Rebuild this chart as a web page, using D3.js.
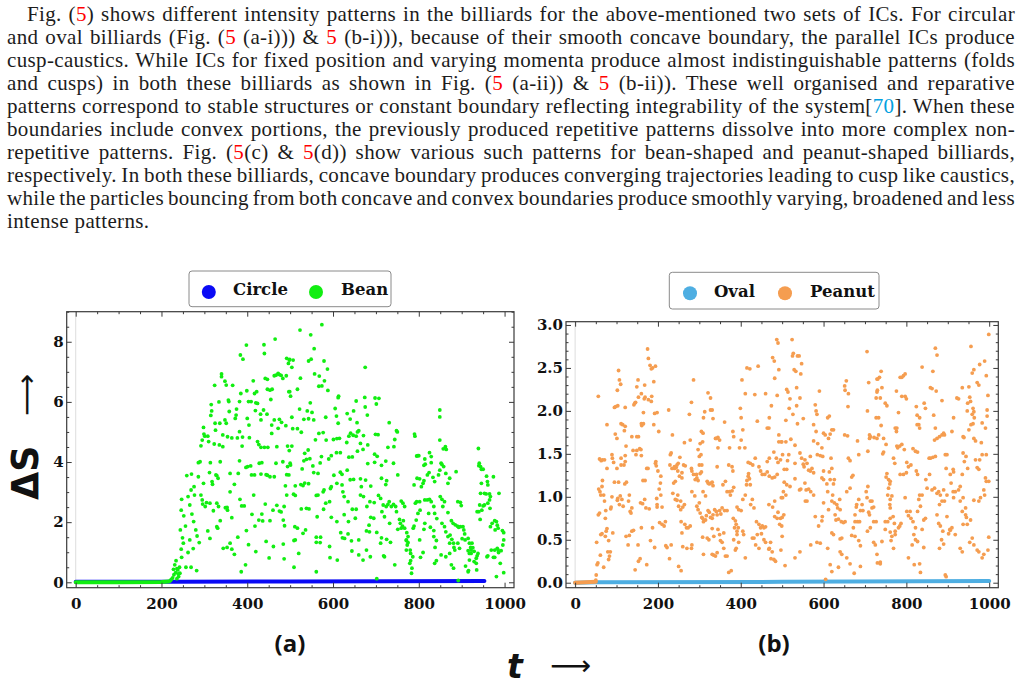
<!DOCTYPE html>
<html>
<head>
<meta charset="utf-8">
<script src="https://d3js.org/d3.v7.min.js"></script>
<style>
  body { margin: 0; background: #fff; }
</style>
</head>
<body>
<svg id="page" width="1027" height="685"></svg>
<script>
// ---- paragraph (^..^ = red ref, ~..~ = cyan ref) ----
const paraLines = [
  "Fig. (^5^) shows different intensity patterns in the billiards for the above-mentioned two sets of ICs. For circular",
  "and oval billiards (Fig. (^5^ (a-i))) & ^5^ (b-i))), because of their smooth concave boundary, the parallel ICs produce",
  "cusp-caustics. While ICs for fixed position and varying momenta produce almost indistinguishable patterns (folds",
  "and cusps) in both these billiards as shown in Fig. (^5^ (a-ii)) & ^5^ (b-ii)). These well organised and reparative",
  "patterns correspond to stable structures or constant boundary reflecting integrability of the system[~70~]. When these",
  "boundaries include convex portions, the previously produced repetitive patterns dissolve into more complex non-",
  "repetitive patterns. Fig. (^5^(c) & ^5^(d)) show various such patterns for bean-shaped and peanut-shaped billiards,",
  "respectively. In both these billiards, concave boundary produces converging trajectories leading to cusp like caustics,",
  "while the particles bouncing from both concave and convex boundaries produce smoothly varying, broadened and less",
  "intense patterns."
];

// ---- ticks ----
const xTicks = [0, 200, 400, 600, 800, 1000];
const yTicksA = [0, 2, 4, 6, 8];
const yTicksB = [0, 0.5, 1.0, 1.5, 2.0, 2.5, 3.0];

// ---- panel (a) series ----
const seriesA = ["Circle", "Bean"];
const circleLine = [[0, 0.02], [230, 0.02], [500, 0.03], [953, 0.04]];
const beanFlat = [[0, 0.0], [100, 0.0], [200, 0.01], [216, 0.03]];
const beanPts = [[218,.03],[221,.06],[226,.15],[229,.25],[233,.32],[236,.12],[239,.28],[243,.3],[236,.45],
[234,.72],[231,.58],[228,.43],[238,.41],[242,.50],[240,.19],[223,.10],[247,.83],[246,1.10],[251,1.30],[249,1.48],[244,1.74],[256,1.87],[252,2.21],[246,2.40],[247,2.76],[259,3.55],[262,2.85],[266,2.57],[271,2.27],[275,2.02],[266,1.41],[262,.99],[257,.50],[269,.50],[282,.39],[274,1.12],[283,1.54],[288,1.32],[280,1.74],[276,3.18],[269,3.07],[270,3.60],[277,2.90],[286,3.51],[286,3.98],[290,4.01],[292,2.90],[296,2.60],[295,2.74],[302,2.52],[298,3.29],[301,4.86],[295,4.73],[292,4.54],[299,4.93],[298,5.15],[308,4.86],[310,4.68],[314,3.98],[312,3.65],[319,3.26],[318,3.35],[321,2.38],[305,2.65],[313,2.63],[308,1.71],[313,1.46],[315,5.55],[317,5.70],[316,5.91],[324,6.55],[340,6.93],[340,6.84],[348,6.69],[351,6.56],[366,6.55],[334,6.00],[325,5.29],[326,5.06],[323,4.60],[329,3.55],[327,3.57],[332,3.46],[329,2.63],[333,2.52],[337,2.05],[329,1.85],[331,1.80],[336,5.29],[343,4.90],[335,4.57],[337,4.01],[343,4.51],[348,5.40],[351,5.29],[357,6.01],[356,6.06],[358,5.68],[349,2.48],[354,2.40],[353,2.49],[364,2.15],[360,3.62],[354,4.84],[360,3.01],[370,3.26],[375,5.76],[372,5.45],[374,5.56],[377,4.80],[364,4.80],[382,6.01],[385,6.28],[384,7.56],[390,7.42],[382,5.01],[389,4.83],[388,4.53],[382,4.04],[379,3.62],[387,2.54],[393,2.54],[383,2.76],[364,1.10],[360,1.30],[344,1.13],[353,1.16],[370,.93],[378,1.50],[386,.35],[396,.58],[398,1.72],[403,1.25],[398,7.89],[399,6.37],[403,6.01],[400,5.45],[404,5.23],[405,4.81],[409,6.01],[414,6.70],[417,6.28],[420,1.02],[418,1.87],[411,2.26],[408,3.87],[401,3.85],[397,3.82],[410,3.57],[417,3.57],[415,2.90],[422,6.34],[420,5.97],[424,5.95],[419,5.71],[431,5.59],[432,5.40],[438,5.73],[439,7.90],[440,7.61],[442,6.78],[447,6.75],[447,6.42],[453,6.39],[458,6.42],[455,6.08],[446,5.59],[457,4.95],[448,4.49],[440,4.49],[432,4.49],[427,4.58],[424,4.68],[428,3.96],[434,3.98],[432,3.60],[444,3.58],[447,3.56],[453,3.51],[463,3.51],[467,3.96],[442,2.60],[434,2.27],[427,2.07],[436,2.04],[453,2.05],[460,2.40],[469,2.56],[475,2.37],[479,2.34],[444,1.36],[461,1.19],[451,.81],[484,1.27],[486,.78],[465,8.09],[463,6.87],[467,6.89],[472,6.95],[479,6.88],[475,6.91],[483,6.78],[491,6.87],[496,7.28],[498,7.39],[492,7.45],[497,6.34],[475,5.42],[480,5.32],[490,5.21],[463,5.40],[472,5.12],[457,5.23],[469,4.51],[494,4.53],[498,4.38],[483,4.01],[494,3.85],[489,3.21],[492,3.58],[500,3.96],[486,2.52],[487,1.88],[484,2.07],[492,2.90],
[574,8.57],[523,8.39],[548,8.23],[556,7.77],[499,7.41],[507,7.39],[543,7.36],[549,7.42],[579,7.36],[504,7.15],[587,7.09],[557,6.93],[568,6.86],[580,6.70],[524,6.79],[567,6.52],[574,6.53],[588,6.38],[517,6.42],[499,6.34],[501,6.19],[675,7.15],[613,6.19],[612,6.14],[547,5.97],[674,6.15],[698,6.13],[707,6.12],[701,5.93],[654,6.03],[675,5.83],[605,5.78],[522,5.76],[540,5.70],[551,5.65],[633,5.61],[648,5.70],[680,5.56],[608,5.53],[640,5.43],[504,5.49],[532,5.42],[543,5.44],[555,5.40],[583,5.49],[731,5.31],[612,5.29],[656,5.31],[506,5.11],[517,5.11],[526,4.99],[567,4.95],[577,4.98],[559,4.74],[584,4.73],[601,4.75],[609,4.78],[615,4.79],[641,4.96],[647,4.89],[654,4.86],[637,4.86],[660,5.04],[657,5.00],[671,4.88],[699,4.92],[705,4.91],[748,5.04],[750,5.00],[744,4.75],[790,4.93],[791,4.86],[849,5.73],[849,5.50],[849,4.73],[742,4.51],[728,4.49],[664,4.62],[681,4.57],[670,4.42],[657,4.36],[632,4.65],[637,4.16],[645,4.17],[617,4.31],[608,4.31],[596,4.21],[590,4.10],[573,4.18],[534,4.29],[504,4.53],[542,4.40],[532,4.04],[538,4.09],[546,4.11],[553,3.87],[570,3.97],[501,3.90],[497,3.57],[528,3.77],[555,3.65],[565,3.62],[512,3.21],[534,3.30],[543,3.28],[602,3.56],[617,3.66],[621,3.59],[633,3.73],[640,3.41],[648,3.42],[664,3.44],[676,3.40],[697,4.26],[703,4.19],[697,3.99],[681,3.95],[713,3.89],[723,4.03],[741,3.96],[713,3.46],[725,3.38],[723,3.25],[751,3.57],[508,2.93],[512,2.89],[525,3.25],[530,3.22],[561,2.89],[565,2.90],[577,3.01],[579,3.07],[596,3.18],[594,3.12],[609,3.29],[621,3.24],[623,3.01],[626,2.85],[635,2.68],[666,3.18],[664,2.90],[671,2.85],[688,3.20],[686,2.68],[696,2.65],[679,2.52],[706,2.89],[711,2.79],[717,2.57],[724,2.52],[728,2.59],[731,2.68],[736,2.52],[741,2.59],[746,2.52],[748,2.35],[759,2.70],[763,2.63],[767,2.52],[755,2.09],[757,1.96],[764,2.05],[762,1.87],[720,2.18],[714,2.35],[732,1.96],[695,2.13],[688,2.16],[684,1.90],[654,2.43],[645,2.43],[652,2.13],[636,2.02],[626,2.25],[609,2.02],[596,2.16],[583,2.63],[592,2.68],[578,2.43],[538,2.46],[544,2.44],[526,2.44],[563,2.18],[511,1.85],[517,1.80],[530,1.63],[536,1.74],[561,1.50],[571,1.50],[570,1.32],[561,1.33],[618,1.65],[622,1.48],[627,1.46],[635,1.61],[643,1.38],[660,1.41],[678,1.71],[685,1.68],[702,1.66],[713,1.48],[725,1.43],[734,1.33],[751,1.76],[759,1.80],[767,1.80],[772,1.65],[775,1.52],[771,1.39],[775,1.32],[789,1.87],[787,1.80],[794,2.07],[798,2.29],[792,2.63],[795,2.68],[802,2.68],[789,3.24],[796,3.46],[802,3.44],[798,4.21],[795,4.20],[800,4.21],[814,4.10],[815,3.93],[812,3.89],[825,4.31],[829,4.18],[829,3.98],[824,3.65],[820,3.57],[812,3.38],[810,3.29],[806,3.18],[833,3.49],[837,3.35],[852,3.96],[858,3.85],[854,3.92],[857,4.44],[862,4.51],[864,4.42],[849,3.73],[846,3.57],[863,3.62],[868,3.29],[872,3.46],[814,2.74],[820,2.74],[825,2.76],[829,2.68],[803,2.40],[835,2.52],[850,2.85],[854,2.76],[856,2.52],[860,2.68],[887,3.68],[891,2.68],[897,2.66],[899,2.55],[868,2.32],[876,2.05],[880,1.96],[885,1.91],[890,1.87],[893,1.83],[897,1.85],[823,2.29],[837,2.29],[842,2.12],[814,1.96],[812,1.76],[827,1.83],[835,1.72],[835,1.52],[841,1.39],[838,1.16],[854,1.96],[860,1.85],[863,1.68],[868,1.52],[873,1.57],[877,1.43],[881,1.30],[872,1.30],[903,1.85],[905,1.74],[907,1.61],[901,1.45],[908,1.41],[915,1.46],[918,1.30],[921,1.16],[922,1.07],[926,1.15],[915,1.05],[918,.96],[929,1.03],[924,1.30],[891,1.30],[895,1.13],[884,1.07],[882,1.16],[852,.91],[863,.85],[872,.96],[876,.58],[881,.47],[841,.72],[837,.63],[810,.99],[804,.83],[786,.85],[781,.72],[779,.63],[784,.47],[783,.30],[771,1.07],[780,1.07],[781,.96],[773,1.24],[771,1.41],[802,1.41],[909,.54],[915,.35],[922,.96],[918,.74],[916,.39],[929,.69],[934,.80],[936,.88],[938,.96],[934,.63],[935,.41],[939,4.45],[941,3.96],[944,3.85],[946,3.76],[940,3.88],[950,3.76],[946,3.29],[944,2.96],[953,2.96],[958,3.53],[960,3.35],[957,2.94],[965,2.94],[967,2.85],[961,3.24],[974,3.51],[987,2.96],[942,2.57],[950,2.54],[953,2.57],[940,2.35],[947,2.40],[961,2.63],[943,2.09],[936,2.35],[966,2.46],[965,2.74],[967,1.85],[971,1.96],[977,2.05],[981,2.02],[985,1.80],[978,1.74],[983,1.90],[995,1.72],[998,1.65],[998,1.41],[996,1.24],[969,1.07],[977,1.07],[983,1.13],[985,1.07],[992,1.05],[986,.99],[990,.63],[998,.32],[981,.19],[961,.88],[959,.85],[974,.83],[977,.83],[702,.12],[892,.06],[509,1.39],[512,1.41],[520,.96],[509,.50],[561,.35],[592,1.19],[593,.82],[610,.74],[644,1.04],[660,.91],[670,.74],[678,1.07],[687,.85],[718,.88],[720,.85],[744,.58],[711,1.30]];

// ---- panel (b) series ----
const seriesB = ["Oval", "Peanut"];
const ovalLine = [[0, 0.0], [50, 0.005], [500, 0.01], [1000, 0.02]];
const peanutFlat = [[0, 0.0], [50, 0.01]];
const peanutPts = [[50,.03],[51,.09],[53,.21],[55,.23],[52,.47],[56,2.17],[56,.79],[59,.81],[62,1.02],[60,1.06],[57,1.09],[65,1.12],[59,1.44],[63,1.42],[66,1.43],[71,1.43],[66,1.19],[62,.56],[61,.32],[69,.18],[65,.57],[73,.75],[74,.84],[77,1.84],[77,1.33],[69,1.02],[71,.95],[75,.60],[77,.63],[73,.54],[81,.49],[79,.36],[83,.31],[81,.27],[85,.36],[89,1.00],[86,.86],[87,.88],[91,.58],[90,1.45],[89,1.49],[93,1.40],[97,1.73],[95,1.17],[95,2.04],[98,2.05],[103,2.06],[102,2.24],[105,2.47],[107,2.36],[110,2.31],[101,1.68],[101,1.33],[105,1.17],[102,.96],[103,.98],[111,1.85],[115,1.84],[121,1.82],[111,1.45],[109,1.01],[107,.91],[113,.97],[116,.89],[111,1.37],[121,2.04],[119,1.77],[123,1.59],[121,1.48],[118,1.37],[120,1.15],[121,1.41],[124,1.17],[131,1.02],[129,.95],[123,.54],[128,.44],[131,.55],[137,.60],[141,.61],[133,.83],[135,.81],[137,.87],[140,1.54],[144,2.09],[142,2.07],[146,2.10],[149,2.28],[152,2.36],[153,2.16],[147,1.49],[149,1.54],[137,1.70],[149,1.70],[153,1.70],[156,1.56],[159,1.55],[160,1.48],[145,.15],[153,.25],[157,.28],[152,.44],[160,.64],[158,.93],[163,.92],[160,1.85],[161,1.83],[165,1.85],[160,2.20],[165,1.98],[168,2.30],[169,2.16],[167,2.14],[175,2.72],[177,2.61],[181,2.53],[184,2.49],[187,2.50],[190,2.34],[194,2.52],[173,1.33],[176,1.33],[164,1.19],[169,1.19],[177,2.13],[184,2.11],[185,2.17],[190,1.84],[192,1.97],[198,1.98],[202,1.76],[182,.49],[192,.41],[173,.21],[168,.97],[171,.87],[179,.86],[195,1.41],[194,1.39],[196,1.36],[200,1.30],[197,.98],[206,1.16],[207,1.24],[198,.88],[203,1.09],[210,.88],[207,1.02],[187,.64],[198,.91],[204,.70],[210,.68],[215,.66],[218,.71],[219,.43],[222,.41],[232,.44],[226,2.01],[235,1.72],[228,.28],[250,.19],[256,.14],[229,1.37],[234,1.33],[240,1.33],[240,1.35],[244,1.34],[246,1.37],[248,1.30],[249,1.39],[253,1.46],[258,1.28],[262,1.37],[266,1.36],[232,1.51],[230,1.49],[238,1.16],[242,1.18],[236,1.04],[242,.97],[246,.96],[248,1.02],[252,1.24],[258,1.22],[255,.95],[250,.89],[255,.85],[260,.88],[264,.91],[256,.71],[265,.68],[269,.64],[258,.58],[273,.64],[278,.66],[260,.42],[270,.40],[281,.40],[282,.44],[264,1.63],[278,1.66],[281,1.33],[282,1.30],[286,1.26],[290,1.20],[293,1.26],[294,1.22],[297,1.19],[286,2.36],[281,2.10],[276,1.96],[282,1.06],[289,1.01],[294,.89],[300,.93],[297,.85],[302,.81],[306,.76],[308,.75],[310,.71],[315,.73],[317,.78],[297,1.55],[300,1.47],[304,1.49],[300,1.37],[306,1.37],[305,1.29],[302,1.27],[305,1.76],[309,1.74],[308,1.64],[302,1.62],[309,1.06],[315,1.01],[319,1.18],[321,1.16],[324,1.15],[328,1.16],[331,1.17],[333,1.13],[313,1.99],[310,1.92],[321,2.21],[327,2.15],[331,2.01],[333,1.91],[327,2.01],[308,.53],[310,.33],[319,.52],[323,.50],[331,.33],[335,.32],[339,.31],[343,.35],[321,.84],[324,.82],[327,.76],[331,.75],[333,.79],[337,.85],[341,.83],[343,.79],[349,.84],[352,.80],[355,.87],[361,.84],[367,.84],[339,1.68],[341,1.68],[345,1.69],[349,1.66],[345,1.57],[343,1.35],[331,.63],[335,.54],[345,.62],[349,.56],[355,.47],[351,.49],[359,.58],[359,.40],[363,.31],[367,.31],[371,.12],[377,.14],[357,1.14],[363,1.18],[367,1.06],[373,1.06],[375,1.02],[379,1.07],[383,1.11],[361,1.87],[373,1.57],[381,1.76],[383,1.70],[371,1.37],[379,1.35],[381,1.30],[382,.75],[387,.72],[389,.68],[391,.60],[394,.64],[385,.64],[391,.56],[383,.50],[395,.47],[389,.40],[387,.38],[391,.88],[395,.85],[401,.84],[397,1.57],[401,1.66],[405,1.78],[410,1.57],[399,2.03],[403,2.36],[401,1.92],[405,.97],[411,1.02],[418,1.24],[414,1.14],[415,1.19],[419,1.27],[421,1.21],[423,1.14],[415,2.50],[422,2.49],[411,2.20],[405,.60],[411,.29],[407,.56],[418,1.40],[423,1.39],[429,1.37],[434,2.19],[442,2.52],[440,1.88],[435,1.45],[444,1.35],[448,1.30],[452,1.26],[424,.91],[428,.97],[432,.87],[438,.71],[444,.68],[448,.64],[452,.66],[456,.64],[460,.65],[428,.52],[432,.52],[436,.44],[440,.56],[444,.40],[450,.57],[456,.50],[460,.47],[469,.40],[473,.28],[468,.39],[458,1.26],[464,1.29],[469,1.24],[476,1.22],[482,1.23],[488,1.26],[464,1.41],[469,1.45],[480,1.52],[486,1.45],[490,1.40],[496,1.43],[460,2.20],[464,1.80],[468,1.80],[469,1.92],[474,2.06],[477,2.62],[481,2.58],[482,2.38],[487,2.83],[490,2.79],[492,2.48],[488,2.18],[492,1.72],[492,1.64],[498,1.64],[498,.99],[468,.91],[477,.88],[482,.95],[490,.82],[482,.77],[488,.75],[496,.75],[500,.76],[494,.68],[472,.47],[476,.36],[480,.27],[484,.25],[500,.54],[504,.79],
[524,2.83],[527,2.67],[525,2.64],[537,2.64],[541,2.64],[547,2.55],[529,2.48],[533,2.46],[545,2.43],[511,2.25],[514,2.22],[519,2.14],[517,2.03],[535,2.27],[543,2.15],[509,1.89],[526,1.96],[535,2.06],[537,1.85],[551,1.91],[499,1.64],[509,1.64],[521,1.67],[531,1.60],[501,1.49],[516,1.49],[513,1.42],[511,1.32],[505,1.32],[531,1.39],[543,1.51],[547,1.45],[555,1.43],[551,1.38],[553,1.35],[560,1.39],[568,1.47],[564,1.31],[568,1.30],[576,1.28],[572,1.33],[505,1.17],[511,1.14],[503,1.06],[501,.99],[509,1.02],[519,1.12],[531,1.21],[542,1.08],[545,1.09],[555,1.16],[558,1.08],[564,1.09],[569,1.06],[560,.95],[556,.95],[576,1.02],[580,2.07],[582,2.00],[584,1.96],[576,1.84],[590,2.23],[582,1.76],[576,1.65],[586,1.62],[600,1.74],[604,1.72],[616,1.73],[612,1.68],[620,1.78],[610,1.92],[614,1.94],[624,1.78],[596,1.57],[598,1.47],[585,1.49],[592,1.48],[600,1.30],[618,1.45],[620,1.33],[614,1.29],[596,1.22],[600,1.20],[608,1.15],[616,1.20],[624,1.15],[626,1.20],[622,1.02],[610,1.06],[600,.93],[612,.85],[620,.95],[626,.93],[632,.91],[639,.97],[634,.87],[628,.79],[640,.85],[630,.73],[636,.74],[643,.71],[648,.70],[652,.71],[580,.77],[597,.77],[596,.72],[588,.66],[620,.58],[624,.56],[640,.51],[644,.52],[584,.47],[592,.46],[569,.44],[543,.36],[531,.29],[507,.20],[497,.38],[499,.66],[610,.40],[616,.21],[620,.13],[636,.18],[640,.36],[644,.33],[656,.29],[664,.22],[674,.11],[689,.19],[689,.43],[685,.49],[651,2.29],[655,2.35],[652,2.24],[660,2.20],[659,2.05],[651,1.72],[658,1.71],[660,1.45],[664,1.42],[668,1.23],[671,1.25],[664,1.10],[656,1.06],[682,1.65],[685,1.49],[685,.97],[680,.91],[679,.88],[693,.91],[689,.84],[695,.84],[676,.79],[676,.71],[682,.71],[687,.71],[672,.64],[668,.55],[676,.54],[705,2.69],[706,2.00],[709,2.33],[707,1.53],[707,1.12],[703,1.06],[705,.99],[713,.95],[717,.95],[709,.82],[711,.79],[717,.87],[721,.88],[721,.71],[727,.71],[706,.60],[713,.64],[721,.47],[725,.44],[729,.33],[730,.23],[737,.24],[737,.22],[741,.48],[729,2.37],[731,2.37],[735,2.39],[739,2.46],[727,2.15],[730,2.24],[729,2.22],[737,2.15],[741,2.27],[733,1.92],[727,1.92],[739,1.83],[733,1.72],[711,1.72],[711,1.68],[713,1.70],[722,1.69],[729,1.68],[745,1.68],[749,2.09],[753,2.06],[751,1.61],[743,1.50],[745,1.52],[753,1.27],[751,1.23],[757,1.20],[761,1.18],[760,1.15],[757,1.10],[755,1.02],[761,.97],[765,1.01],[760,.91],[761,.87],[749,.71],[755,.71],[761,.75],[768,.77],[771,.69],[773,.60],[765,.54],[763,.49],[769,.40],[773,.56],[781,.64],[784,.66],[787,.69],[761,.59],[749,.62],[776,2.23],[773,1.80],[777,1.80],[776,1.76],[781,1.98],[785,2.39],[789,2.39],[793,2.41],[797,2.43],[789,2.17],[797,2.17],[800,2.14],[777,1.59],[779,1.57],[784,1.59],[769,1.45],[772,1.39],[789,1.61],[795,1.55],[785,1.26],[793,1.26],[800,1.28],[801,1.40],[805,1.35],[811,1.37],[797,.99],[801,.83],[805,.78],[811,.75],[809,.83],[816,.71],[822,.64],[822,.50],[827,.48],[818,.56],[814,.44],[805,.29],[819,.21],[832,.22],[834,.12],[824,2.05],[826,1.95],[832,1.92],[830,1.84],[838,2.51],[843,2.09],[846,2.03],[826,1.84],[832,1.80],[816,1.56],[822,1.53],[827,1.52],[824,1.30],[827,1.26],[832,1.02],[830,.97],[838,1.02],[834,.89],[827,.83],[842,.73],[838,.62],[842,.41],[846,.75],[850,1.10],[847,1.20],[856,1.26],[855,1.45],[858,1.45],[864,1.46],[870,1.47],[858,2.27],[862,2.26],[864,2.46],[870,2.73],[874,2.65],[872,2.23],[866,1.95],[870,1.80],[868,1.66],[874,1.68],[880,1.70],[886,1.72],[862,1.08],[868,1.10],[874,1.04],[878,1.06],[882,1.02],[890,1.08],[892,.95],[886,.95],[880,.91],[874,.79],[878,.69],[882,.66],[888,.60],[885,.50],[880,.40],[890,.45],[894,.09],[896,.07],[886,2.12],[890,1.74],[892,1.72],[894,1.49],[898,1.49],[896,1.33],[898,1.02],[898,.77],[905,.62],[902,.57],[906,.61],[910,.64],[914,.99],[913,1.06],[908,1.16],[910,1.76],[914,1.92],[922,2.15],[926,2.14],[918,1.06],[926,1.08],[930,1.12],[937,.99],[935,.83],[943,.87],[945,.76],[947,.68],[930,.95],[935,1.26],[937,1.51],[940,1.41],[948,1.33],[937,1.70],[935,2.27],[939,1.69],[944,1.47],[918,.56],[930,.40],[935,.36],[953,.47],[959,.52],[963,.44],[971,.38],[975,.36],[983,.29],[987,.33],[997,.38],[999,.53],[937,.68],[943,.79],[955,.73],[951,2.28],[953,2.16],[955,2.11],[961,2.03],[959,1.96],[963,1.99],[964,1.92],[961,1.85],[956,1.84],[951,1.78],[947,2.00],[948,2.09],[956,2.75],[959,2.44],[963,2.48],[971,2.33],[975,2.30],[977,2.54],[989,2.58],[993,2.41],[997,2.18],[995,2.01],[995,1.94],[991,1.80],[983,1.86],[963,1.68],[967,1.65],[981,1.63],[983,1.49],[977,1.43],[975,1.32],[971,1.34],[967,1.43],[993,1.49],[999,1.18],[993,1.18],[991,1.22],[987,1.08],[989,1.02],[979,.99],[975,.95],[963,.96],[913,1.32],[914,1.29],[906,1.26],[605,.04],[999,2.89]];

const svg = d3.select("#page");
const frameColor = "#3a3a3a";
const tickFont = "DejaVu Serif";

// ---------- paragraph ----------
const textX = 7, textRight = 1015, indent = 20;
paraLines.forEach((ln, i) => {
  const x0 = i === 0 ? textX + indent : textX;
  const t = svg.append("text")
    .attr("x", x0)
    .attr("y", 21 + 23 * i)
    .attr("font-family", "Liberation Serif")
    .attr("font-size", 21)
    .attr("fill", "#1c1c1c")
    .style("letter-spacing", "0.35px")
    .style("white-space", "pre");
  ln.split(/(\^[^^]*\^|~[^~]*~)/).forEach(seg => {
    if (!seg) return;
    let col = null, s = seg;
    if (seg[0] === "^") { col = "#ff0000"; s = seg.slice(1, -1); }
    if (seg[0] === "~") { col = "#00a0e0"; s = seg.slice(1, -1); }
    const ts = t.append("tspan").text(s);
    if (col) ts.attr("fill", col);
  });
  if (i < paraLines.length - 1) {
    const w = t.node().getComputedTextLength();
    const n = (ln.match(/ /g) || []).length;
    t.style("word-spacing", ((textRight - x0 - w) / n) + "px");
  }
});

// ---------- panels ----------
function drawPanel(o) {
  const g = svg.append("g");
  const x = d3.scaleLinear().domain(o.xDom).range([o.left, o.right]);
  const y = d3.scaleLinear().domain(o.yDom).range([o.bottom, o.top]);

  g.append("line")
    .attr("x1", x(0)).attr("x2", x(0))
    .attr("y1", o.top).attr("y2", o.bottom)
    .attr("stroke", "#dddddd").attr("stroke-width", 1);

  const line = d3.line().x(d => x(d[0])).y(d => y(d[1]));
  g.append("path").datum(o.baseLine)
    .attr("d", line).attr("fill", "none")
    .attr("stroke", o.colors[0]).attr("stroke-width", 4)
    .attr("stroke-linecap", "round");
  g.append("path").datum(o.flatLine)
    .attr("d", line).attr("fill", "none")
    .attr("stroke", o.colors[1]).attr("stroke-width", 4)
    .attr("stroke-linecap", "round");
  g.append("g").selectAll("circle").data(o.pts).join("circle")
    .attr("cx", d => x(d[0])).attr("cy", d => y(d[1]))
    .attr("r", 1.9).attr("fill", o.colors[1]);

  // frame ticks
  const styleAxis = sel => {
    sel.select(".domain").remove();
    sel.selectAll("line").attr("stroke", frameColor);
    sel.selectAll("text")
      .attr("font-family", tickFont)
      .attr("font-weight", "bold")
      .attr("font-size", 15)
      .attr("fill", "#111");
  };
  const xMinor = d3.range(0, 1001, 50).filter(v => v % 200 !== 0);
  g.append("g").attr("transform", `translate(0,${o.bottom})`)
    .call(d3.axisBottom(x).tickValues(xTicks).tickSize(-5).tickPadding(11).tickFormat(d3.format("d"))).call(styleAxis);
  g.append("g").attr("transform", `translate(0,${o.bottom})`)
    .call(d3.axisBottom(x).tickValues(xMinor).tickSize(-2.5).tickFormat("")).call(styleAxis);
  g.append("g").attr("transform", `translate(0,${o.top})`)
    .call(d3.axisTop(x).tickValues(xTicks).tickSize(-5).tickFormat("")).call(styleAxis);
  g.append("g").attr("transform", `translate(0,${o.top})`)
    .call(d3.axisTop(x).tickValues(xMinor).tickSize(-2.5).tickFormat("")).call(styleAxis);
  g.append("g").attr("transform", `translate(${o.left},0)`)
    .call(d3.axisLeft(y).tickValues(o.yTicks).tickSize(-5).tickPadding(3).tickFormat(o.yFmt)).call(styleAxis);
  g.append("g").attr("transform", `translate(${o.left},0)`)
    .call(d3.axisLeft(y).tickValues(o.yMinor).tickSize(-2.5).tickFormat("")).call(styleAxis);
  g.append("g").attr("transform", `translate(${o.right},0)`)
    .call(d3.axisRight(y).tickValues(o.yTicks).tickSize(-5).tickFormat("")).call(styleAxis);
  g.append("g").attr("transform", `translate(${o.right},0)`)
    .call(d3.axisRight(y).tickValues(o.yMinor).tickSize(-2.5).tickFormat("")).call(styleAxis);

  g.append("rect")
    .attr("x", o.left).attr("y", o.top)
    .attr("width", o.right - o.left).attr("height", o.bottom - o.top)
    .attr("fill", "none").attr("stroke", frameColor).attr("stroke-width", 1.2);

  // legend
  const lg = g.append("g");
  lg.append("rect")
    .attr("x", o.legend.x).attr("y", o.legend.y)
    .attr("width", o.legend.w).attr("height", o.legend.h)
    .attr("rx", 3).attr("fill", "#fff")
    .attr("stroke", "#8a8a8a").attr("stroke-width", 1);
  o.names.forEach((nm, i) => {
    lg.append("circle")
      .attr("cx", o.legend.dots[i]).attr("cy", o.legend.cy)
      .attr("r", 7).attr("fill", o.colors[i]);
    lg.append("text")
      .attr("x", o.legend.labels[i]).attr("y", o.legend.base)
      .attr("font-family", tickFont).attr("font-weight", "bold")
      .attr("font-size", 16.5).attr("fill", "#111")
      .text(nm);
  });

  svg.append("text")
    .attr("x", o.tagX).attr("y", 652)
    .attr("text-anchor", "middle")
    .attr("font-family", "Open Sans").attr("font-weight", "bold")
    .attr("font-size", 24).attr("fill", "#111")
    .text(o.tag);
}

drawPanel({
  xDom: [-21, 1022], yDom: [-0.18, 9.0],
  left: 66.7, right: 514, top: 311.7, bottom: 587.7,
  yTicks: yTicksA, yMinor: d3.range(0.5, 9.01, 0.5).filter(v => v % 2 !== 0),
  yFmt: d3.format("d"),
  names: seriesA, colors: ["#0a0af5", "#11ee11"],
  baseLine: circleLine, flatLine: beanFlat, pts: beanPts,
  legend: {x: 189, y: 271, w: 202, h: 35.7, cy: 292, dots: [208.8, 316], labels: [233, 341], base: 295},
  tag: "(a)", tagX: 290
});

drawPanel({
  xDom: [-22, 1022], yDom: [-0.058, 3.038],
  left: 566, right: 998.3, top: 321.7, bottom: 587.7,
  yTicks: yTicksB, yMinor: d3.range(0.1, 3.01, 0.1).filter(v => Math.abs(v * 2 - Math.round(v * 2)) > 0.01),
  yFmt: d3.format(".1f"),
  names: seriesB, colors: ["#4eaee2", "#f59d50"],
  baseLine: ovalLine, flatLine: peanutFlat, pts: peanutPts,
  legend: {x: 669.3, y: 272.3, w: 209.7, h: 36.7, cy: 293.3, dots: [690, 785], labels: [714, 810], base: 296.7},
  tag: "(b)", tagX: 774
});

// ---------- axis titles ----------
const yTitle = svg.append("g").attr("transform", "translate(38.3,440) rotate(-90)");
yTitle.append("text")
  .attr("x", -60).attr("y", 0)
  .attr("font-family", "DejaVu Sans").attr("font-weight", "bold")
  .attr("font-size", 36.5).attr("fill", "#111")
  .text("ΔS");
yTitle.append("text")
  .attr("x", 24).attr("y", -2)
  .attr("font-family", "DejaVu Sans").attr("font-size", 28)
  .attr("textLength", 42).attr("lengthAdjust", "spacingAndGlyphs")
  .attr("fill", "#111")
  .text("⟶");

svg.append("text")
  .attr("x", 507).attr("y", 678)
  .attr("font-family", "DejaVu Sans").attr("font-weight", "bold").attr("font-style", "italic")
  .attr("font-size", 33).attr("fill", "#111")
  .text("t");
svg.append("text")
  .attr("x", 550).attr("y", 675)
  .attr("font-family", "DejaVu Sans").attr("font-size", 28)
  .attr("textLength", 41).attr("lengthAdjust", "spacingAndGlyphs")
  .attr("fill", "#111")
  .text("⟶");
</script>
</body>
</html>
